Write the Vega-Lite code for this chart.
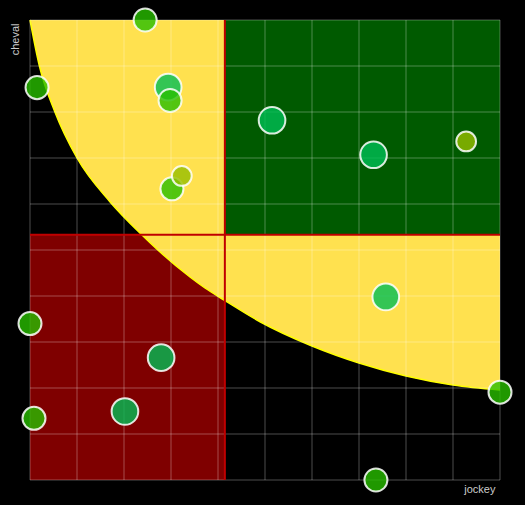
{
  "$schema": "https://vega.github.io/schema/vega-lite/v6.json",
  "width": 470,
  "height": 460,
  "autosize": {"type": "none"},
  "padding": {"left": 30, "top": 20, "right": 25, "bottom": 25},
  "background": "black",
  "config": {
    "view": {"stroke": null},
    "axis": {"grid": false, "labels": false, "ticks": false, "domain": false, "titleFont": "Liberation Sans", "titleFontSize": 11, "titleFontWeight": "normal", "titleColor": "#cccccc"}
  },
  "datasets": {
    "points": [
      {"jockey": 2.45, "cheval": 10.0, "groupe": "a", "valeur": 53},
      {"jockey": 0.15, "cheval": 8.53, "groupe": "a", "valeur": 53},
      {"jockey": 2.94, "cheval": 8.54, "groupe": "b", "valeur": 71},
      {"jockey": 2.98, "cheval": 8.25, "groupe": "a", "valeur": 53},
      {"jockey": 5.15, "cheval": 7.82, "groupe": "b", "valeur": 71},
      {"jockey": 7.31, "cheval": 7.07, "groupe": "b", "valeur": 71},
      {"jockey": 9.28, "cheval": 7.36, "groupe": "c", "valeur": 39},
      {"jockey": 3.02, "cheval": 6.33, "groupe": "a", "valeur": 53},
      {"jockey": 3.23, "cheval": 6.61, "groupe": "c", "valeur": 39},
      {"jockey": 7.57, "cheval": 3.98, "groupe": "b", "valeur": 71},
      {"jockey": 0.0, "cheval": 3.40, "groupe": "a", "valeur": 53},
      {"jockey": 2.79, "cheval": 2.66, "groupe": "b", "valeur": 71},
      {"jockey": 0.085, "cheval": 1.34, "groupe": "a", "valeur": 53},
      {"jockey": 2.02, "cheval": 1.49, "groupe": "b", "valeur": 71},
      {"jockey": 10.0, "cheval": 1.91, "groupe": "a", "valeur": 53},
      {"jockey": 7.36, "cheval": 0.0, "groupe": "a", "valeur": 53}
    ],
    "courbe": [
      {"x": 0, "y": 10},
      {"x": 0.2, "y": 9.0},
      {"x": 0.53, "y": 8.0},
      {"x": 1.0, "y": 7.0},
      {"x": 1.7, "y": 6.05},
      {"x": 2.383, "y": 5.326},
      {"x": 2.72, "y": 5.0},
      {"x": 3.404, "y": 4.413},
      {"x": 3.723, "y": 4.174},
      {"x": 4.149, "y": 3.9},
      {"x": 4.894, "y": 3.44},
      {"x": 6.0, "y": 2.913},
      {"x": 7.0, "y": 2.543},
      {"x": 8.0, "y": 2.261},
      {"x": 9.0, "y": 2.065},
      {"x": 10.0, "y": 1.957}
    ],
    "grille": [
      {"v": 0}, {"v": 1}, {"v": 2}, {"v": 3}, {"v": 4}, {"v": 5},
      {"v": 6}, {"v": 7}, {"v": 8}, {"v": 9}, {"v": 10}
    ]
  },
  "layer": [
    {
      "data": {"name": "points"},
      "mark": {"type": "rect", "color": "#7f0000"},
      "encoding": {
        "x": {"aggregate": "mean", "field": "jockey", "type": "quantitative",
              "scale": {"domain": [0, 10], "nice": false, "zero": false},
              "axis": {"title": "jockey", "titleX": 465, "titleY": 12, "titleAlign": "right", "titleBaseline": "alphabetic", "titleAngle": 0}},
        "x2": {"datum": 0},
        "y": {"aggregate": "mean", "field": "cheval", "type": "quantitative",
              "scale": {"domain": [0, 10], "nice": false, "zero": false},
              "axis": {"title": "cheval", "titleX": -15, "titleY": 3, "titleAngle": -90, "titleAlign": "right", "titleBaseline": "middle"}},
        "y2": {"datum": 0}
      }
    },
    {
      "data": {"name": "courbe"},
      "mark": {"type": "area", "color": "#ffe14f", "interpolate": "monotone"},
      "encoding": {
        "x": {"field": "x", "type": "quantitative", "title": "jockey"},
        "y": {"field": "y", "type": "quantitative", "title": "cheval", "stack": null},
        "y2": {"datum": 10}
      }
    },
    {
      "data": {"name": "courbe"},
      "mark": {"type": "line", "color": "#ffff00", "strokeWidth": 1.5, "interpolate": "monotone"},
      "encoding": {
        "x": {"field": "x", "type": "quantitative", "title": "jockey"},
        "y": {"field": "y", "type": "quantitative", "title": "cheval"}
      }
    },
    {
      "data": {"name": "points"},
      "mark": {"type": "rect", "color": "#005a00"},
      "encoding": {
        "x": {"aggregate": "mean", "field": "jockey", "type": "quantitative", "title": "jockey"},
        "x2": {"datum": 10},
        "y": {"aggregate": "mean", "field": "cheval", "type": "quantitative", "title": "cheval"},
        "y2": {"datum": 10}
      }
    },
    {
      "data": {"name": "grille"},
      "mark": {"type": "rule", "color": "white", "opacity": 0.3, "strokeWidth": 1},
      "encoding": {"x": {"field": "v", "type": "quantitative", "title": "jockey"}}
    },
    {
      "data": {"name": "grille"},
      "mark": {"type": "rule", "color": "white", "opacity": 0.3, "strokeWidth": 1},
      "encoding": {"y": {"field": "v", "type": "quantitative", "title": "cheval"}}
    },
    {
      "data": {"name": "points"},
      "mark": {"type": "rule", "color": "#c00000", "strokeWidth": 2},
      "encoding": {"x": {"aggregate": "mean", "field": "jockey", "type": "quantitative", "title": "jockey"}}
    },
    {
      "data": {"name": "points"},
      "mark": {"type": "rule", "color": "#c00000", "strokeWidth": 2},
      "encoding": {"y": {"aggregate": "mean", "field": "cheval", "type": "quantitative", "title": "cheval"}}
    },
    {
      "data": {"name": "points"},
      "mark": {"type": "circle", "fillOpacity": 0.8, "stroke": "white", "strokeWidth": 2, "strokeOpacity": 0.85},
      "encoding": {
        "x": {"field": "jockey", "type": "quantitative", "title": "jockey"},
        "y": {"field": "cheval", "type": "quantitative", "title": "cheval"},
        "color": {"field": "groupe", "type": "nominal", "scale": {"domain": ["a", "b", "c"], "range": ["#28be00", "#00be55", "#96be00"]}, "legend": null},
        "size": {"field": "valeur", "type": "quantitative", "scale": {"type": "linear", "domain": [0, 100], "range": [0, 1000], "zero": true}, "legend": null}
      }
    }
  ]
}
